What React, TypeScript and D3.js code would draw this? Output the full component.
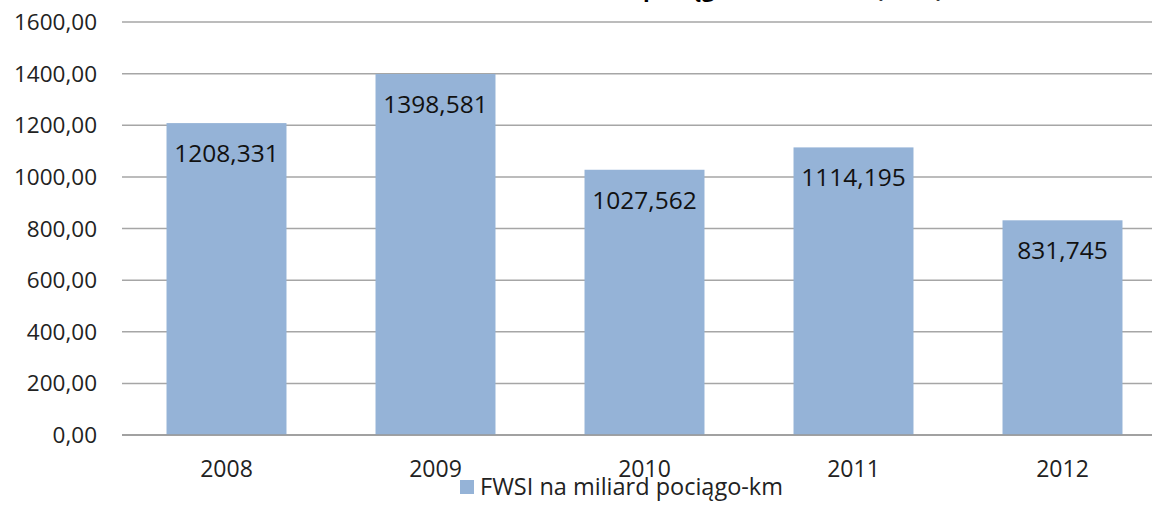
import React from "react";
import * as d3 from "d3";

const years = ["2008", "2009", "2010", "2011", "2012"];
const values = [1208.331, 1398.581, 1027.562, 1114.195, 831.745];
const valueLabels = ["1208,331", "1398,581", "1027,562", "1114,195", "831,745"];
const yTicks = [0, 200, 400, 600, 800, 1000, 1200, 1400, 1600];
const seriesName = "FWSI na miliard pociągo-km";
const title = "Wskaźnik ofiar na miliard pociągo-km w Polsce (FWSI)";

const W = 1152;
const H = 508;
const FONT = "'Open Sans', sans-serif";

export default function App() {
  const y = d3.scaleLinear().domain([0, 1600]).range([435, 22]);
  const x = d3
    .scaleBand<string>()
    .domain(years)
    .range([122, 1167])
    .paddingInner(0.426)
    .paddingOuter(0.213);
  const fmt = (v: number) => d3.format(".2f")(v).replace(".", ",");

  return (
    <svg
      width={W}
      height={H}
      style={{ position: "absolute", left: 0, top: 0, background: "#fff" }}
      fontFamily={FONT}
    >
      <text x={650} y={-3.5} textAnchor="middle" fontSize={22} fontWeight="bold" fill="#000">
        {title}
      </text>
      {yTicks.map((t) => (
        <g key={t}>
          <line x1={122} x2={1167} y1={y(t)} y2={y(t)} stroke="#a6a6a6" strokeWidth={1.5} />
          <text x={97} y={y(t) + 8} textAnchor="end" fontSize={22.5} fill="#222">
            {fmt(t)}
          </text>
        </g>
      ))}
      {years.map((yr, i) => (
        <g key={yr}>
          <rect
            x={x(yr)}
            y={y(values[i])}
            width={x.bandwidth()}
            height={y(0) - y(values[i])}
            fill="#95b3d7"
          />
          <text
            x={(x(yr) as number) + x.bandwidth() / 2}
            y={y(values[i]) + 39}
            textAnchor="middle"
            fontSize={24.5}
            fill="#111"
          >
            {valueLabels[i]}
          </text>
          <text
            x={(x(yr) as number) + x.bandwidth() / 2}
            y={477}
            textAnchor="middle"
            fontSize={23}
            fill="#222"
          >
            {yr}
          </text>
        </g>
      ))}
      <line x1={122} x2={1167} y1={y(0)} y2={y(0)} stroke="#999" strokeWidth={1.5} />
      <rect x={460} y={480} width={14} height={14} fill="#95b3d7" />
      <text x={480} y={495} fontSize={23.5} fill="#222">
        {seriesName}
      </text>
    </svg>
  );
}
